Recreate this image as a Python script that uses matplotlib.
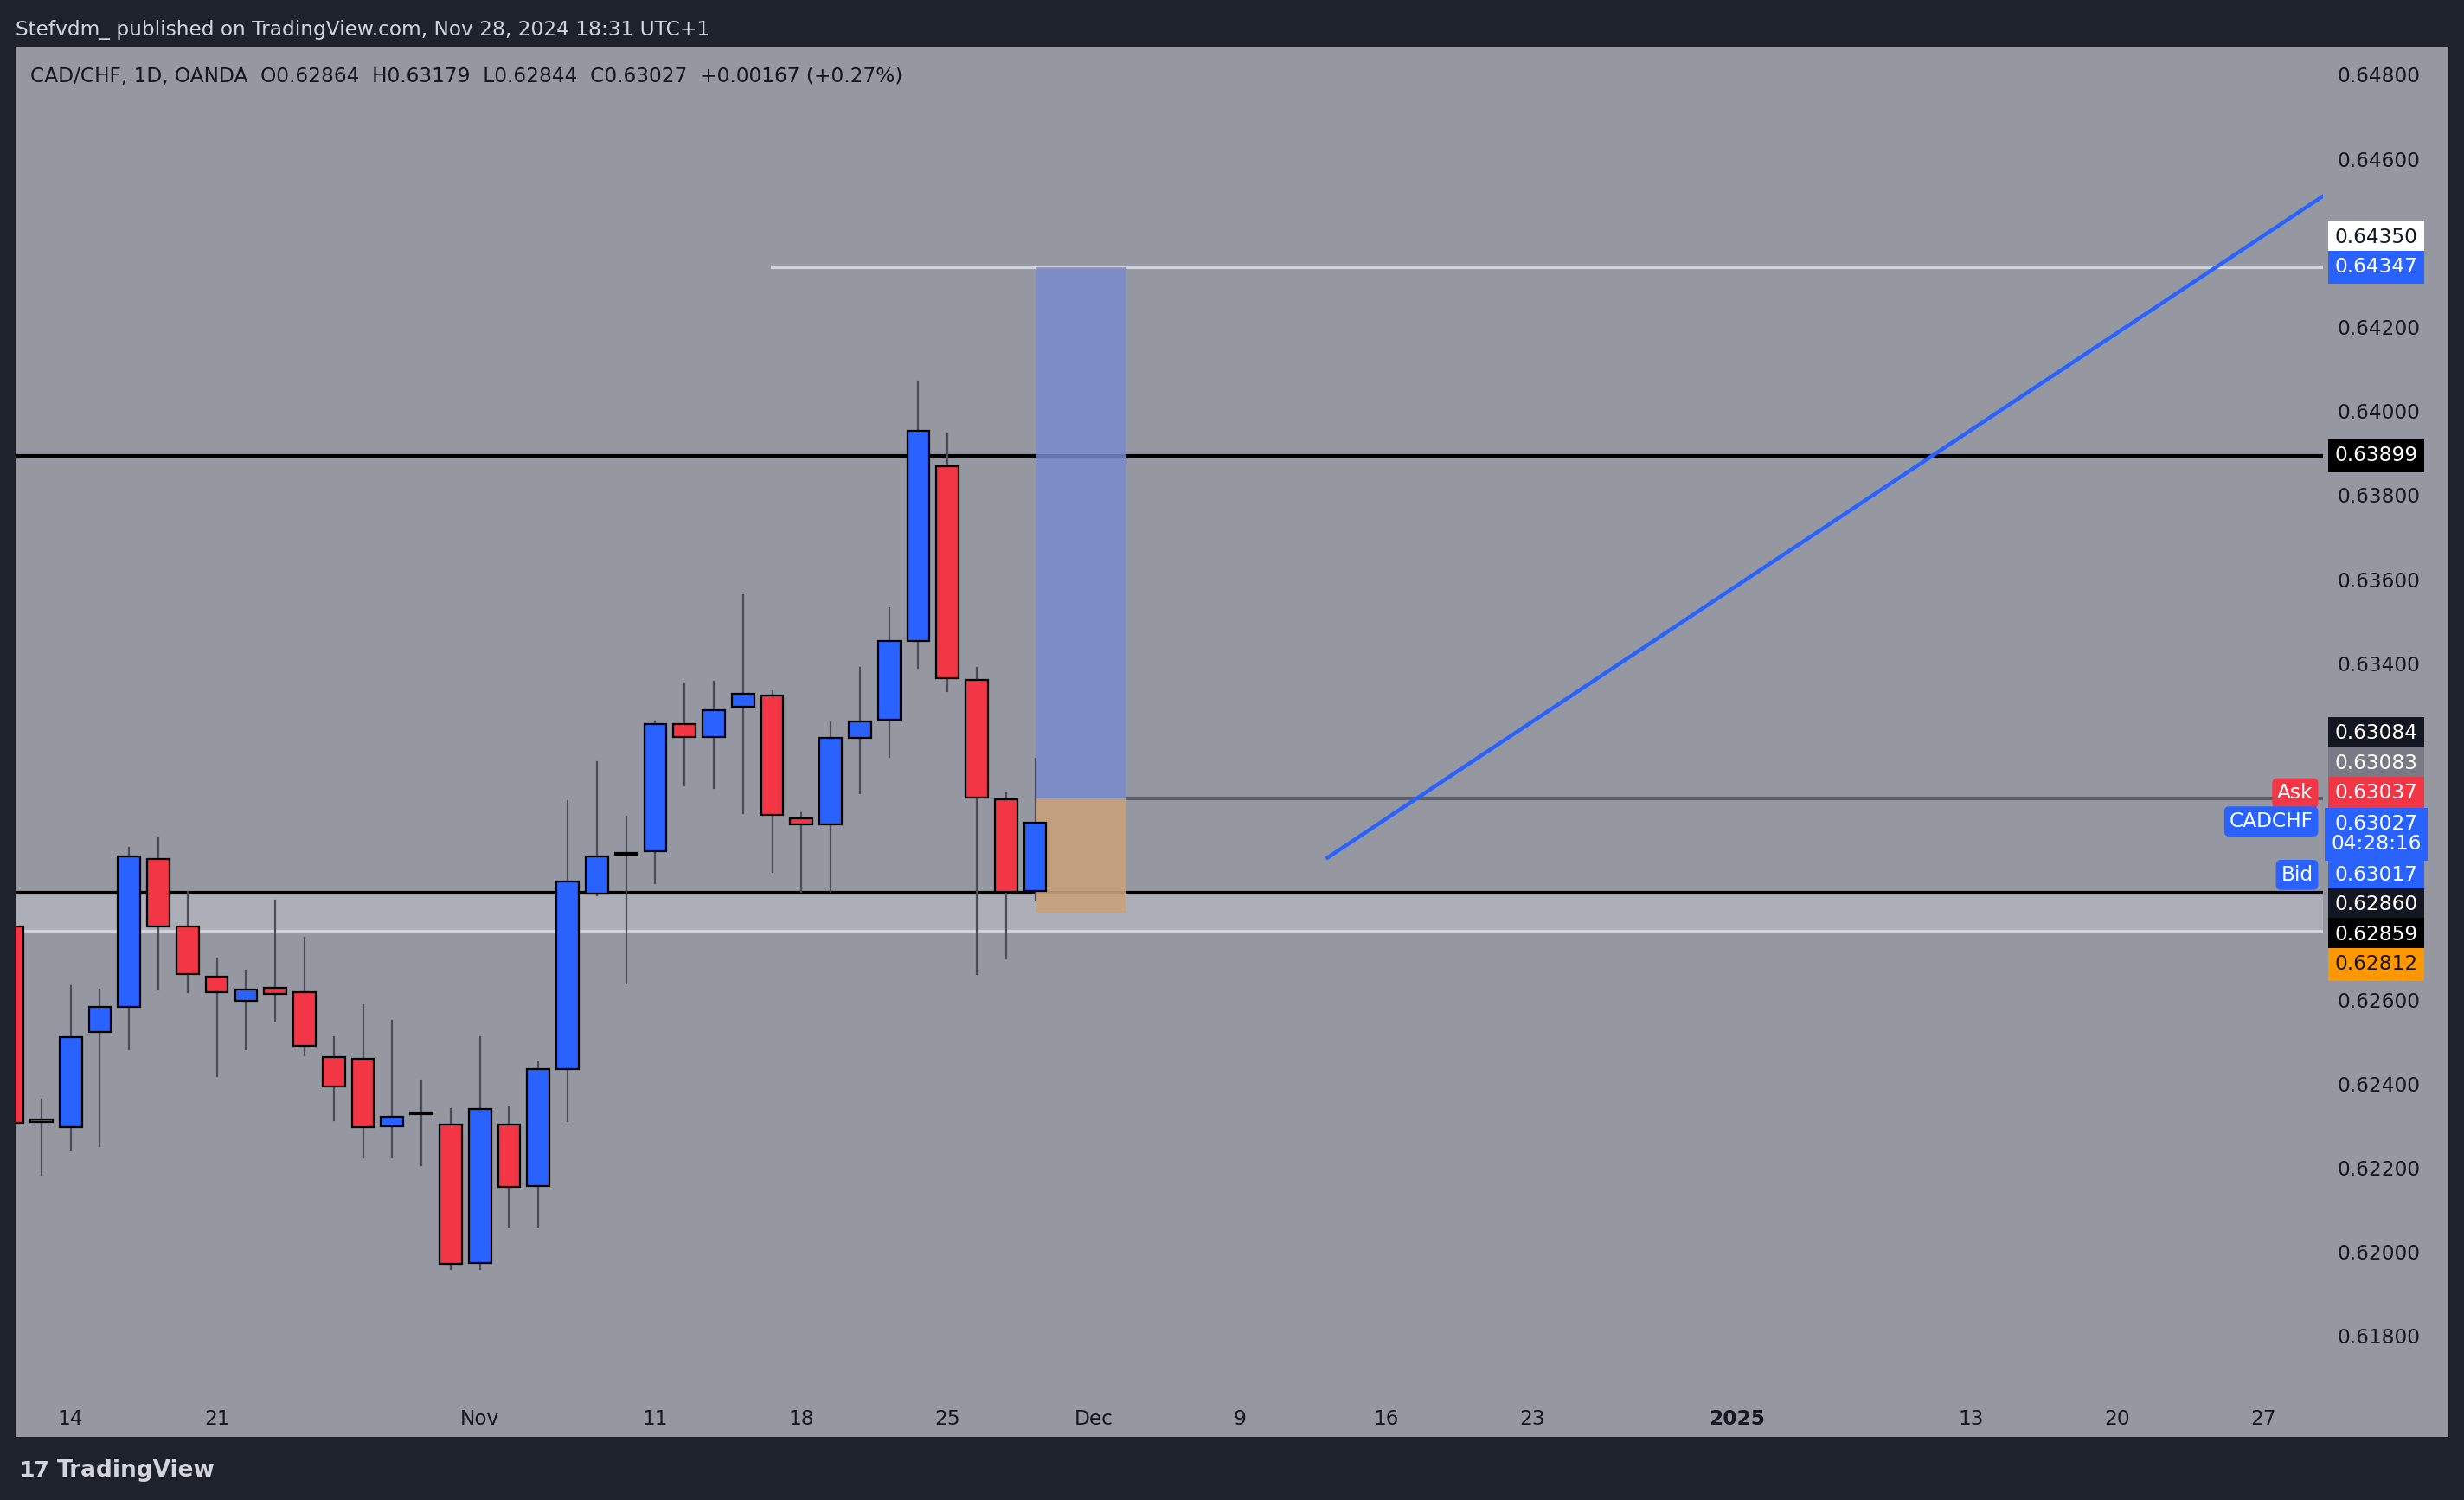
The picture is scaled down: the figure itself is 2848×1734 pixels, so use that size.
import matplotlib.pyplot as plt
from matplotlib.patches import Rectangle

# trading-day index (0 = Oct 14) and OHLC
days = list(range(-2, 34))
opens = [0.62779, 0.62316, 0.62301, 0.62529, 0.62588, 0.62940, 0.62779, 0.62659, 0.62603, 0.62633,
         0.62622, 0.62469, 0.62465, 0.62304, 0.62334, 0.62308, 0.61979, 0.62308, 0.62162, 0.62439,
         0.62857, 0.62951, 0.62958, 0.63261, 0.63231, 0.63302, 0.63328, 0.63037, 0.63022, 0.63227,
         0.63272, 0.63459, 0.63873, 0.63365, 0.63081, 0.62864]
closes = [0.62312, 0.62315, 0.62517, 0.62588, 0.62947, 0.62779, 0.62667, 0.62622, 0.62629, 0.62618,
          0.62495, 0.62398, 0.62301, 0.62327, 0.62333, 0.61976, 0.62345, 0.62159, 0.62439, 0.62887,
          0.62947, 0.62950, 0.63261, 0.63231, 0.63294, 0.63332, 0.63044, 0.63022, 0.63227, 0.63268,
          0.63459, 0.63959, 0.63369, 0.63085, 0.62861, 0.63027]
highs = [0.62798, 0.62368, 0.62637, 0.62629, 0.62966, 0.62992, 0.62861, 0.62704, 0.62674, 0.62842,
         0.62752, 0.62517, 0.62592, 0.62555, 0.62413, 0.62345, 0.62517, 0.62349, 0.62457, 0.63078,
         0.63171, 0.63040, 0.63268, 0.63358, 0.63361, 0.63567, 0.63339, 0.63048, 0.63265, 0.63395,
         0.63537, 0.64075, 0.63952, 0.63395, 0.63096, 0.63179]
lows = [0.62256, 0.62189, 0.62248, 0.62256, 0.62487, 0.62629, 0.62622, 0.62424, 0.62487, 0.62555,
        0.62472, 0.62319, 0.62230, 0.62230, 0.62211, 0.61964, 0.61964, 0.62065, 0.62065, 0.62316,
        0.62854, 0.62644, 0.62883, 0.63115, 0.63108, 0.63048, 0.62910, 0.62861, 0.62861, 0.63096,
        0.63182, 0.63395, 0.63339, 0.62667, 0.62704, 0.62844]

tick_pos = [0, 5, 14, 20, 25, 30, 35, 40, 45, 50, 57, 65, 70, 75]
tick_lab = ['14', '21', 'Nov', '11', '18', '25', 'Dec', '9', '16', '23', '2025', '13', '20', '27']
price_ticks = [0.618, 0.620, 0.622, 0.624, 0.626, 0.634, 0.636, 0.638, 0.640, 0.642, 0.646, 0.648]

BG = '#1e222d'
GREY = '#9598a1'
BLUE = '#2962ff'
RED = '#f23645'
FS = 8.4

W, H = 1568, 955
fig = plt.figure(figsize=(14.24, 8.67), dpi=200, facecolor=BG)
bg = fig.add_axes([10 / W, 40 / H, 1548 / W, 885 / H])
bg.set_facecolor(GREY)
bg.set_xticks([])
bg.set_yticks([])
for s in bg.spines.values():
    s.set_visible(False)

ax = fig.add_axes([10 / W, 65 / H, 1468 / W, 860 / H])
ax.set_facecolor('none')
ax.set_xlim(-1.88, 77.04)
ax.set_ylim(0.61658, 0.64871)
for s in ax.spines.values():
    s.set_visible(False)
ax.set_xticks([])
ax.set_yticks([])

# zones and levels
ax.axhspan(0.62768, 0.62860, color='#b2b5be', alpha=0.8, lw=0, zorder=1)
ax.axhline(0.62768, color='#d1d4dc', lw=1.5, zorder=2)
ax.axhline(0.62860, color='black', lw=1.5, zorder=2)
ax.axhline(0.63899, color='black', lw=1.5, zorder=2)
ax.plot([24, 77.04], [0.64347, 0.64347], color='#d1d4dc', lw=1.5, zorder=2)
ax.plot([33.1, 77.04], [0.63084, 0.63084], color='#5d606b', lw=1.5, zorder=2)
ax.add_patch(Rectangle((33.0, 0.63084), 3.1, 0.64347 - 0.63084, facecolor='#7a8bcc', alpha=0.85, lw=0, zorder=2))
ax.add_patch(Rectangle((33.0, 0.62812), 3.1, 0.63084 - 0.62812, facecolor='#c9a27a', alpha=0.9, lw=0, zorder=2))
ax.plot([43.0, 77.04], [0.62943, 0.64516], color=BLUE, lw=1.6, zorder=3)

for d, o, c, h, l in zip(days, opens, closes, highs, lows):
    col = BLUE if c > o else (RED if c < o else '#131722')
    ax.plot([d, d], [l, h], color='#4a4d57', lw=0.8, zorder=4)
    ax.add_patch(Rectangle((d - 0.38, min(o, c)), 0.76, max(abs(c - o), 0.00005),
                           facecolor=col, edgecolor='black', lw=0.8, zorder=5))

trans = ax.get_yaxis_transform()
for p in price_ticks:
    ax.text(1.0245, p, f'{p:.5f}', transform=trans, ha='center', va='center', fontsize=FS, color='#131722')
for i, lab in enumerate(tick_lab):
    ax.text(tick_pos[i], 0.61658 - 0.00027, lab, ha='center', va='top', fontsize=FS, color='#131722',
            fontweight='bold' if lab == '2025' else 'normal', clip_on=False)

tags = [('0.64350', 'white', '#131722'), ('0.64347', BLUE, 'white'),
        ('0.63899', 'black', 'white'), ('0.63084', '#131722', 'white'),
        ('0.63083', '#787b86', 'white'), ('0.63037', RED, 'white'),
        ('0.63027\n04:28:16', BLUE, 'white'), ('0.63017', BLUE, 'white'),
        ('0.62860', '#131722', 'white'), ('0.62859', 'black', 'white'),
        ('0.62812', '#ff9800', '#131722')]
ypix = [151, 170, 290, 467, 486, 505, 531, 557, 576, 595, 614]
for (t, bgc, fg), yp in zip(tags, ypix):
    fig.text(1512 / W, 1 - yp / H, t, ha='center', va='center', fontsize=FS, color=fg,
             linespacing=1.0,
             bbox=dict(boxstyle='square,pad=0.32', facecolor=bgc, edgecolor='none'))
for lab, yp, bgc in [('Ask', 505, RED), ('CADCHF', 523, BLUE), ('Bid', 557, BLUE)]:
    fig.text(1472 / W, 1 - yp / H, lab, ha='right', va='center', fontsize=FS, color='white',
             bbox=dict(boxstyle='round,pad=0.25', facecolor=bgc, edgecolor='none'))

fig.text(10 / W, 1 - 19 / H, 'Stefvdm_ published on TradingView.com, Nov 28, 2024 18:31 UTC+1',
         fontsize=FS, color='#d1d4dc', va='center')
fig.text(19 / W, 1 - 49 / H, 'CAD/CHF, 1D, OANDA  O0.62864  H0.63179  L0.62844  C0.63027  +0.00167 (+0.27%)',
         fontsize=FS, color='#131722', va='center')
fig.text(36 / W, 1 - 936 / H, 'TradingView', fontsize=9.5, color='#d1d4dc', va='center', fontweight='bold')
fig.text(12 / W, 1 - 936 / H, '17', fontsize=9, color='#d1d4dc', va='center', fontweight='bold')

fig.savefig('out.png', dpi=200, facecolor=BG)
